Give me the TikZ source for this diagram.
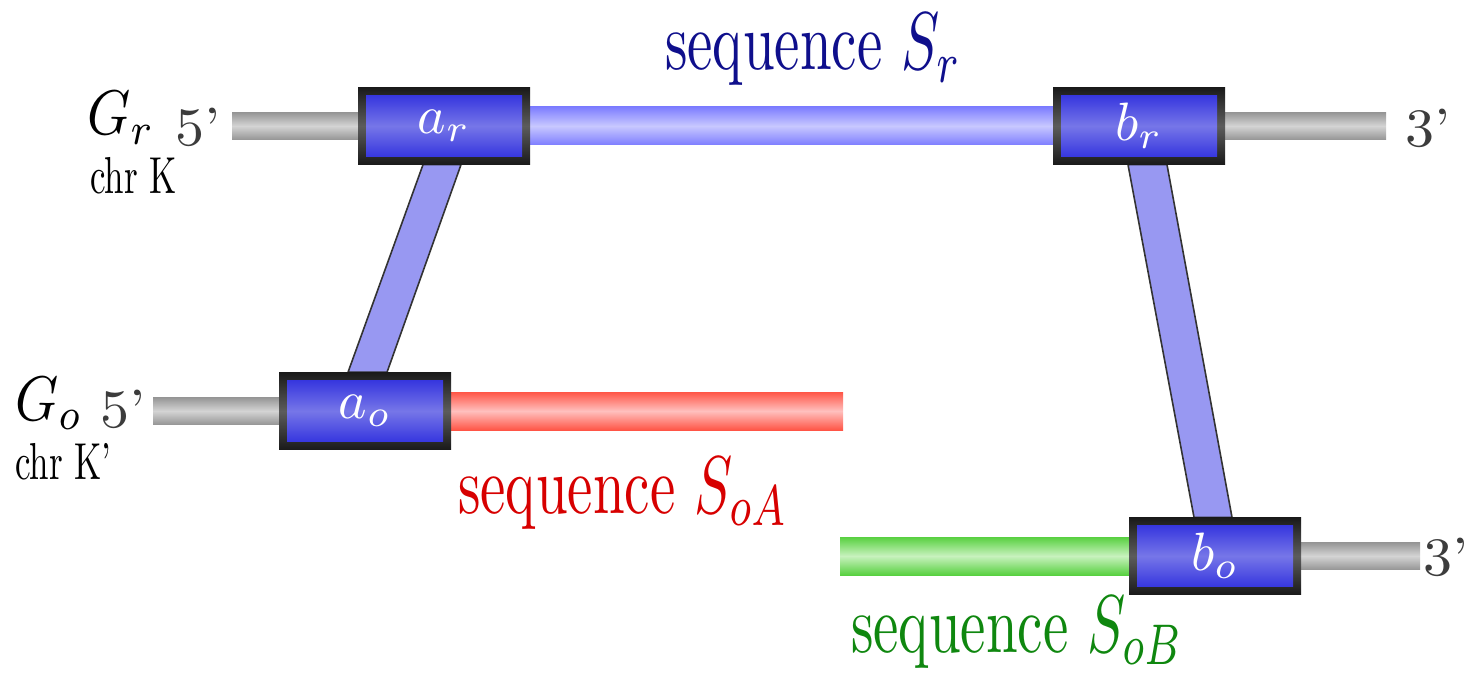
\RequirePackage{fix-cm}
\documentclass[tikz,border=0pt]{standalone}
\usepackage{graphicx}
\usetikzlibrary{calc}
\definecolor{navyt}{RGB}{15,15,140}
\definecolor{redt}{RGB}{215,0,0}
\definecolor{greent}{RGB}{15,135,15}
\definecolor{numc}{RGB}{60,60,60}
\definecolor{grayA}{RGB}{150,150,150}
\definecolor{grayB}{RGB}{212,212,212}
\definecolor{blbarA}{RGB}{125,125,255}
\definecolor{blbarB}{RGB}{200,200,255}
\definecolor{redA}{RGB}{255,85,70}
\definecolor{redB}{RGB}{255,192,190}
\definecolor{grnA}{RGB}{88,208,64}
\definecolor{grnB}{RGB}{200,242,190}
\definecolor{boxA}{RGB}{38,38,220}
\definecolor{boxB}{RGB}{118,118,232}
\definecolor{bordA}{RGB}{26,26,26}
\definecolor{bordB}{RGB}{92,92,92}
\definecolor{linkc}{RGB}{152,152,242}
\pgfdeclarelayer{bg}
\pgfsetlayers{bg,main}
\tikzset{
  graybar/.style={top color=grayA, bottom color=grayA, middle color=grayB},
  bluebar/.style={top color=blbarA, bottom color=blbarA, middle color=blbarB},
  redbar/.style={top color=redA, bottom color=redA, middle color=redB},
  greenbar/.style={top color=grnA, bottom color=grnA, middle color=grnB},
  linkband/.style={fill=linkc, draw=black!80, line width=1.6pt, line join=miter},
  blockbox/.style={minimum width=172pt, minimum height=77pt, inner sep=0pt,
    top color=bordA, bottom color=bordA, middle color=bordB, text=white,
    path picture={\shade[top color=boxA, bottom color=boxA, middle color=boxB]
      ($(path picture bounding box.south west)+(8pt,8pt)$) rectangle
      ($(path picture bounding box.north east)+(-8pt,-8pt)$);}},
  txt/.style={inner sep=0pt, anchor=base west},
  endlab/.style={inner sep=0pt, anchor=west, text=numc},
}
\newcommand{\seqlab}[1]{\scalebox{5.7}[8.2]{sequence #1}}
\newcommand{\boxlab}[1]{\scalebox{5.4}{#1}}
\newcommand{\primelab}[1]{\scalebox{5.8}[5.4]{#1}}
\newcommand{\chrtxt}[1]{\scalebox{3.5}[5.2]{#1}}
\newcommand{\gentxt}[1]{\scalebox{5.5}[6.3]{#1}}
\begin{document}
\begin{tikzpicture}[x=1pt,y=-1pt]
\useasboundingbox (0,0) rectangle (1473,676);

% blocks
\node[blockbox] (ar) at (444,126) {\boxlab{$a_r$}};
\node[blockbox] (br) at (1139,126) {\boxlab{$b_r$}};
\node[blockbox] (ao) at (365,411) {\boxlab{$a_o$}};
\node[blockbox] (bo) at (1215,556) {\boxlab{$b_o$}};

% free ends of strands
\coordinate (grL) at (232,126);
\coordinate (grR) at (1386,126);
\coordinate (goL) at (153,411);
\coordinate (soAend) at (843,411);
\coordinate (soBend) at (840,556);
\coordinate (goR) at (1420,556);

\begin{pgfonlayer}{bg}
  \shade[graybar] ($(grL)+(0pt,13.5pt)$) rectangle ($(ar.west)+(0pt,-13.5pt)$);
  \shade[bluebar] ($(ar.east)+(0pt,19pt)$) rectangle ($(br.west)+(0pt,-19pt)$);
  \shade[graybar] ($(br.east)+(0pt,13.5pt)$) rectangle ($(grR)+(0pt,-13.5pt)$);
  \shade[graybar] ($(goL)+(0pt,13.5pt)$) rectangle ($(ao.west)+(0pt,-13.5pt)$);
  \shade[redbar] ($(ao.east)+(0pt,19pt)$) rectangle ($(soAend)+(0pt,-19pt)$);
  \shade[greenbar] ($(soBend)+(0pt,19pt)$) rectangle ($(bo.west)+(0pt,-19pt)$);
  \shade[graybar] ($(bo.east)+(0pt,13.5pt)$) rectangle ($(goR)+(0pt,-13.5pt)$);
  \draw[linkband] ($(ar.south)+(-21pt,0pt)$) -- ($(ar.south)+(17pt,0pt)$)
     -- ($(ao.north)+(22pt,0pt)$) -- ($(ao.north)+(-17pt,0pt)$) -- cycle;
  \draw[linkband] ($(br.south)+(-11pt,0pt)$) -- ($(br.south)+(28pt,0pt)$)
     -- ($(bo.north)+(17pt,0pt)$) -- ($(bo.north)+(-21pt,0pt)$) -- cycle;
\end{pgfonlayer}

% labels
\node[txt] (Gr) at (87,135) {\gentxt{$G_r$}};
\node[endlab] (r5) at (175,127) {\primelab{5'}};
\node[txt] (chrK) at (90,194) {\chrtxt{chr K}};
\node[endlab] (r3) at (1405,128) {\primelab{3'}};

\node[txt] (Go) at (15,420) {\gentxt{$G_o$}};
\node[endlab] (o5) at (100,409) {\primelab{5'}};
\node[txt] (chrKp) at (15,479) {\chrtxt{chr K'}};
\node[endlab] (o3) at (1423,557) {\primelab{3'}};

\node[txt, text=navyt] (seqr) at (665,70) {\seqlab{$S_r$}};
\node[txt, text=redt] (seqoa) at (458,513) {\seqlab{$S_{oA}$}};
\node[txt, text=greent] (seqob) at (851,652) {\seqlab{$S_{oB}$}};
\end{tikzpicture}
\end{document}
